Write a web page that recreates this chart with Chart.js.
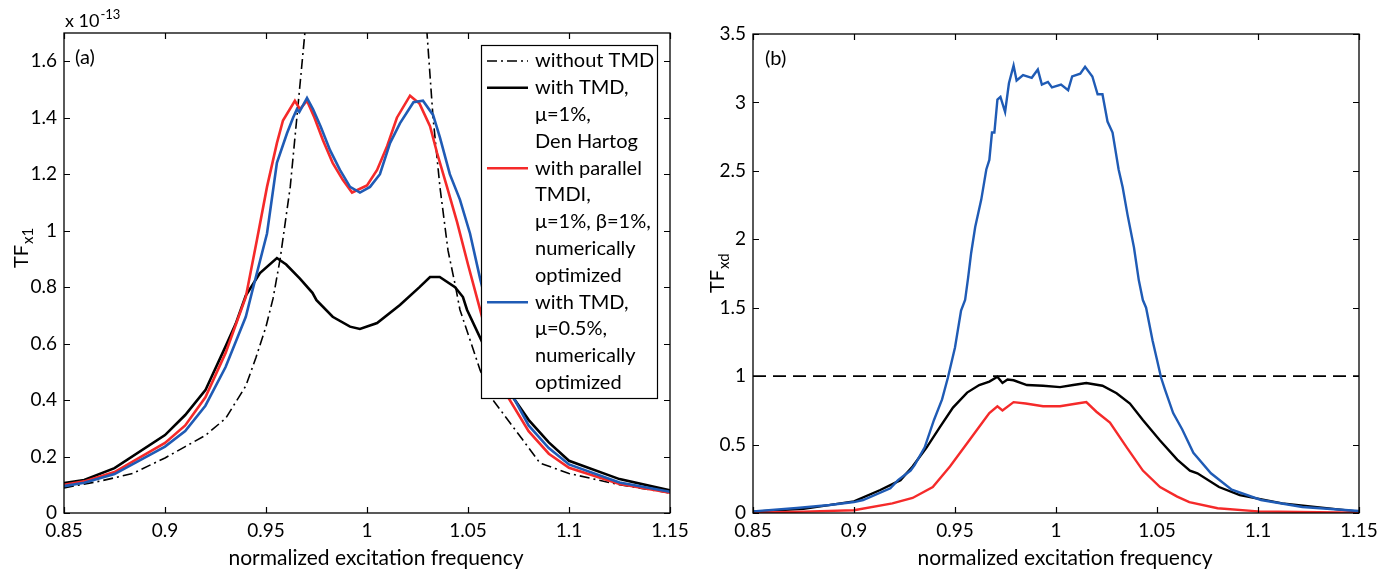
<!DOCTYPE html>
<html>
<head>
<meta charset="utf-8">
<script src="https://cdn.jsdelivr.net/npm/chart.js@4.4.0/dist/chart.umd.min.js"></script>
<style>
  body { margin: 0; background: #fff; }
  #wrap { position: relative; width: 1391px; height: 572px; }
  canvas { position: absolute; top: 0; }
  #chart-a { left: 0; }
  #chart-b { left: 700px; }
</style>
</head>
<body>
<div id="wrap">
  <canvas id="chart-a" width="700" height="572"></canvas>
  <canvas id="chart-b" width="691" height="572"></canvas>
</div>
<script>
const FONT = "Lato, 'DejaVu Sans', sans-serif";
const RED = "#f52a2a";
const BLUE = "#1f5bb5";

const xTicks = [0.85, 0.9, 0.95, 1, 1.05, 1.1, 1.15];
const yTicksA = [0, 0.2, 0.4, 0.6, 0.8, 1, 1.2, 1.4, 1.6];
const yTicksB = [0, 0.5, 1, 1.5, 2, 2.5, 3, 3.5];
const xTitle = "normalized excitation frequency";

const legendLabels = [
  ["without TMD"],
  ["with TMD,", "\u03bc=1%,", "Den Hartog"],
  ["with parallel", "TMDI,", "\u03bc=1%, \u03b2=1%,", "numerically", "optimized"],
  ["with TMD,", "\u03bc=0.5%,", "numerically", "optimized"],
];

// panel (a): TF_x1 (x 1e-13)
const noTmdFreqA = [0.85, 0.868, 0.884, 0.9, 0.91, 0.92, 0.93, 0.94, 0.945, 0.95, 0.9535, 0.957, 0.962, 0.967, 0.9695, 0.973,
  1.027, 1.0297, 1.0327, 1.0361, 1.0401, 1.0436, 1.046, 1.056, 1.0624, 1.077, 1.0856, 1.1, 1.125, 1.15];
const noTmdValA = [0.089, 0.113, 0.14, 0.195, 0.235, 0.275, 0.335, 0.45, 0.55, 0.66, 0.76, 0.9, 1.155, 1.53, 1.72, 2.3,
  2.3, 1.7, 1.4, 1.155, 0.93, 0.81, 0.72, 0.506, 0.4, 0.26, 0.177, 0.14, 0.1, 0.071];

const tmdFreqA = [0.85, 0.86, 0.875, 0.9, 0.91, 0.92, 0.93, 0.935, 0.94, 0.947, 0.9554, 0.96, 0.9668, 0.973, 0.975, 0.983,
  0.9916, 0.9965, 1.005, 1.0163, 1.026, 1.0312, 1.036, 1.0436, 1.0475, 1.0495, 1.06, 1.0708, 1.08, 1.09, 1.1, 1.125, 1.15];
const tmdValA = [0.106, 0.117, 0.159, 0.276, 0.347, 0.435, 0.59, 0.67, 0.77, 0.85, 0.903, 0.88, 0.83, 0.78, 0.754, 0.695,
  0.66, 0.652, 0.673, 0.737, 0.8, 0.836, 0.836, 0.8, 0.765, 0.72, 0.56, 0.425, 0.33, 0.25, 0.185, 0.12, 0.08];

const tmdiFreqA = [0.85, 0.86, 0.875, 0.9, 0.91, 0.92, 0.93, 0.94, 0.9455, 0.9505, 0.9554, 0.9584, 0.9643, 0.9668, 0.9703,
  0.974, 0.9782, 0.983, 0.988, 0.9926, 1.0, 1.005, 1.01, 1.0148, 1.0213, 1.026, 1.0312, 1.0347, 1.0396, 1.0446, 1.05, 1.056,
  1.062, 1.069, 1.08, 1.09, 1.1, 1.125, 1.15];
const tmdiValA = [0.1, 0.112, 0.145, 0.248, 0.31, 0.41, 0.567, 0.765, 0.967, 1.155, 1.31, 1.39, 1.46, 1.43, 1.46,
  1.4, 1.32, 1.24, 1.18, 1.135, 1.16, 1.215, 1.3, 1.4, 1.478, 1.45, 1.37, 1.275, 1.155, 1.03, 0.88, 0.72,
  0.56, 0.42, 0.29, 0.21, 0.16, 0.103, 0.072];

const halfTmdFreqA = [0.85, 0.86, 0.875, 0.9, 0.91, 0.92, 0.93, 0.94, 0.943, 0.9505, 0.9554, 0.9604, 0.9634, 0.9653, 0.9665,
  0.9703, 0.9733, 0.977, 0.9817, 0.9866, 0.9916, 0.9965, 1.0015, 1.0064, 1.0114, 1.0163, 1.023, 1.0277, 1.0327, 1.0361,
  1.041, 1.046, 1.051, 1.056, 1.062, 1.0717, 1.08, 1.09, 1.1, 1.125, 1.15];
const halfTmdValA = [0.095, 0.107, 0.138, 0.235, 0.29, 0.38, 0.517, 0.695, 0.78, 0.99, 1.24, 1.345, 1.4, 1.43, 1.42,
  1.47, 1.43, 1.37, 1.285, 1.215, 1.155, 1.135, 1.155, 1.2, 1.31, 1.38, 1.455, 1.46, 1.41, 1.33,
  1.2, 1.11, 0.99, 0.83, 0.66, 0.42, 0.31, 0.23, 0.172, 0.108, 0.075];

// panel (b): TF_xd
const refFreqB = [0.85, 1.15];
const refValB = [1, 1];

const tmdFreqB = [0.85, 0.875, 0.9, 0.913, 0.923, 0.929, 0.936, 0.9426, 0.949, 0.956, 0.962, 0.967, 0.971, 0.9735, 0.976,
  0.979, 0.9856, 0.9936, 1.002, 1.0085, 1.015, 1.023, 1.03, 1.0366, 1.043, 1.0515, 1.06, 1.0663, 1.07, 1.0807, 1.091,
  1.112, 1.15];
const tmdValB = [0.01, 0.03, 0.085, 0.168, 0.24, 0.34, 0.48, 0.63, 0.77, 0.88, 0.935, 0.96, 0.995, 0.95, 0.975,
  0.97, 0.935, 0.93, 0.92, 0.935, 0.95, 0.93, 0.875, 0.8, 0.68, 0.53, 0.39, 0.31, 0.29, 0.19, 0.13,
  0.07, 0.01];

const tmdiFreqB = [0.85, 0.875, 0.9, 0.919, 0.929, 0.939, 0.9475, 0.956, 0.962, 0.967, 0.971, 0.9735, 0.979, 0.985, 0.9936,
  1.002, 1.0104, 1.015, 1.02, 1.0267, 1.035, 1.043, 1.0515, 1.06, 1.066, 1.08, 1.1, 1.15];
const tmdiValB = [0.003, 0.01, 0.02, 0.07, 0.11, 0.19, 0.34, 0.51, 0.63, 0.73, 0.78, 0.75, 0.81, 0.8, 0.78,
  0.78, 0.8, 0.81, 0.74, 0.66, 0.48, 0.31, 0.19, 0.12, 0.08, 0.035, 0.012, 0.003];

const halfTmdFreqB = [0.85, 0.8717, 0.888, 0.9, 0.9045, 0.918, 0.9218, 0.928, 0.93, 0.935, 0.9396, 0.9436, 0.9465, 0.95,
  0.953, 0.955, 0.9565, 0.958, 0.96, 0.963, 0.9655, 0.967, 0.9683, 0.9695, 0.971, 0.9725, 0.9748, 0.9767, 0.979, 0.9805,
  0.9837, 0.988, 0.991, 0.993, 0.996, 0.998, 1.0025, 1.006, 1.008, 1.012, 1.0144, 1.018, 1.0206, 1.023, 1.0255, 1.028,
  1.031, 1.033, 1.0354, 1.0386, 1.041, 1.043, 1.0446, 1.0478, 1.05, 1.052, 1.054, 1.058, 1.0625, 1.068, 1.0767, 1.087,
  1.1015, 1.122, 1.15];
const halfTmdValB = [0.012, 0.037, 0.058, 0.08, 0.095, 0.18, 0.24, 0.31, 0.35, 0.48, 0.68, 0.83, 0.99, 1.21,
  1.48, 1.556, 1.72, 1.9, 2.09, 2.29, 2.51, 2.58, 2.78, 2.78, 3.02, 3.04, 2.93, 3.14, 3.27, 3.16,
  3.2, 3.18, 3.24, 3.13, 3.15, 3.11, 3.13, 3.09, 3.19, 3.21, 3.26, 3.19, 3.06, 3.06, 2.86, 2.78,
  2.51, 2.38, 2.18, 1.94, 1.7, 1.556, 1.5, 1.26, 1.12, 0.99, 0.9, 0.73, 0.61, 0.44, 0.29, 0.17,
  0.095, 0.044, 0.015];

function toPoints(xs, ys) {
  return xs.map((x, i) => ({ x, y: ys[i] }));
}

function tickLabel(value) {
  return String(Number(value.toFixed(2)));
}

const panelDecor = {
  id: "panelDecor",
  afterDatasetsDraw(chart, args, opts) {
    const { ctx, chartArea: area, scales } = chart;
    ctx.save();

    // legend box
    if (opts.legend) {
      const box = opts.legend;
      ctx.fillStyle = "#fff";
      ctx.fillRect(box.x, box.y, box.w, box.h);
      ctx.strokeStyle = "#000";
      ctx.lineWidth = 1.2;
      ctx.strokeRect(box.x + 0.5, box.y + 0.5, box.w, box.h);
      ctx.font = `${box.fontSize}px ${FONT}`;
      ctx.textBaseline = "middle";
      ctx.textAlign = "left";
      let row = 0;
      legendLabels.forEach((lines, i) => {
        const ds = chart.data.datasets[box.datasets[i]];
        const y = box.firstRow + row * box.rowStep;
        ctx.strokeStyle = ds.borderColor;
        ctx.lineWidth = ds.borderWidth;
        ctx.setLineDash(ds.borderDash || []);
        ctx.beginPath();
        ctx.moveTo(box.x + 6, y);
        ctx.lineTo(box.x + 47, y);
        ctx.stroke();
        ctx.setLineDash([]);
        ctx.fillStyle = "#000";
        lines.forEach((line) => {
          ctx.fillText(line, box.x + 54, box.firstRow + row * box.rowStep);
          row += 1;
        });
      });
    }

    // frame
    ctx.strokeStyle = "#000";
    ctx.lineWidth = 1.3;
    ctx.strokeRect(area.left, area.top, area.right - area.left, area.bottom - area.top);

    // inward ticks on all four sides
    ctx.lineWidth = 1.2;
    ctx.beginPath();
    scales.x.ticks.forEach((t) => {
      const px = Math.round(scales.x.getPixelForValue(t.value)) + 0.5;
      ctx.moveTo(px, area.bottom);
      ctx.lineTo(px, area.bottom - 6);
      ctx.moveTo(px, area.top);
      ctx.lineTo(px, area.top + 6);
    });
    scales.y.ticks.forEach((t) => {
      const py = Math.round(scales.y.getPixelForValue(t.value)) + 0.5;
      ctx.moveTo(area.left, py);
      ctx.lineTo(area.left + 6, py);
      ctx.moveTo(area.right, py);
      ctx.lineTo(area.right - 6, py);
    });
    ctx.stroke();

    ctx.fillStyle = "#000";
    ctx.textBaseline = "alphabetic";

    // panel tag
    ctx.font = `20px ${FONT}`;
    ctx.textAlign = "left";
    ctx.fillText(opts.tag, opts.tagPos[0], opts.tagPos[1]);

    // x title
    ctx.font = `21px ${FONT}`;
    ctx.textAlign = "center";
    ctx.fillText(xTitle, (area.left + area.right) / 2 + 9, 565);

    // y title with subscript
    ctx.save();
    ctx.translate(opts.yTitlePos[0], opts.yTitlePos[1]);
    ctx.rotate(-Math.PI / 2);
    ctx.textAlign = "left";
    ctx.font = `20px ${FONT}`;
    ctx.fillText(opts.yTitle[0], 0, 0);
    const w = ctx.measureText(opts.yTitle[0]).width;
    ctx.font = `15px ${FONT}`;
    ctx.fillText(opts.yTitle[1], w + 1, 5);
    ctx.restore();

    // exponent
    if (opts.exponent) {
      ctx.textAlign = "left";
      ctx.font = `18px ${FONT}`;
      ctx.fillText("x 10", 65, 27);
      const ew = ctx.measureText("x 10").width;
      ctx.font = `13px ${FONT}`;
      ctx.fillText("-13", 65 + ew + 1, 19);
    }
    ctx.restore();
  },
};

function axes(yMax, yTicks, yWidth) {
  const common = {
    type: "linear",
    grid: { display: false, drawTicks: false },
    border: { display: false },
  };
  return {
    x: {
      ...common,
      min: 0.85,
      max: 1.15,
      afterBuildTicks: (scale) => {
        scale.ticks = xTicks.map((value) => ({ value }));
      },
      afterFit: (scale) => {
        scale.height = 59;
      },
      ticks: {
        padding: 6,
        maxRotation: 0,
        autoSkip: false,
        color: "#000",
        font: { family: FONT, size: 19 },
        callback: tickLabel,
      },
    },
    y: {
      ...common,
      min: 0,
      max: yMax,
      afterBuildTicks: (scale) => {
        scale.ticks = yTicks.map((value) => ({ value }));
      },
      afterFit: (scale) => {
        scale.width = yWidth;
      },
      ticks: {
        padding: 7,
        autoSkip: false,
        color: "#000",
        font: { family: FONT, size: 19 },
        callback: tickLabel,
      },
    },
  };
}

function line(label, xs, ys, color, width, order, dash) {
  return {
    label,
    data: toPoints(xs, ys),
    borderColor: color,
    borderWidth: width,
    borderDash: dash || [],
    pointRadius: 0,
    tension: 0,
    fill: false,
    clip: 0,
    order,
  };
}

const baseOptions = {
  responsive: false,
  animation: false,
  events: [],
  parsing: false,
};

new Chart(document.getElementById("chart-a"), {
  type: "line",
  data: {
    datasets: [
      line("without TMD", noTmdFreqA, noTmdValA, "#000", 1.6, 4, [10, 4, 2, 4]),
      line("with TMD, mu=1%, Den Hartog", tmdFreqA, tmdValA, "#000", 2.6, 3),
      line("with parallel TMDI", tmdiFreqA, tmdiValA, RED, 2.6, 2),
      line("with TMD, mu=0.5%", halfTmdFreqA, halfTmdValA, BLUE, 2.6, 1),
    ],
  },
  options: {
    ...baseOptions,
    layout: { padding: { top: 33, right: 30, left: 0, bottom: 0 } },
    plugins: {
      legend: { display: false },
      tooltip: { enabled: false },
      panelDecor: {
        tag: "(a)",
        tagPos: [75, 64],
        yTitle: ["TF", "x1"],
        yTitlePos: [28, 268],
        exponent: true,
        legend: { x: 481, y: 45, w: 176, h: 353, firstRow: 61, rowStep: 26.8, fontSize: 20, datasets: [0, 1, 2, 3] },
      },
    },
    scales: axes(1.7, yTicksA, 64),
  },
  plugins: [panelDecor],
});

new Chart(document.getElementById("chart-b"), {
  type: "line",
  data: {
    datasets: [
      line("reference", refFreqB, refValB, "#000", 1.8, 4, [13, 7]),
      line("with TMD, mu=1%, Den Hartog", tmdFreqB, tmdValB, "#000", 2.4, 3),
      line("with parallel TMDI", tmdiFreqB, tmdiValB, RED, 2.4, 2),
      line("with TMD, mu=0.5%", halfTmdFreqB, halfTmdValB, BLUE, 2.4, 1),
    ],
  },
  options: {
    ...baseOptions,
    layout: { padding: { top: 34, right: 32, left: 0, bottom: 0 } },
    plugins: {
      legend: { display: false },
      tooltip: { enabled: false },
      panelDecor: {
        tag: "(b)",
        tagPos: [65, 65],
        yTitle: ["TF", "xd"],
        yTitlePos: [24, 293],
        exponent: false,
        legend: null,
      },
    },
    scales: axes(3.5, yTicksB, 53),
  },
  plugins: [panelDecor],
});
</script>
</body>
</html>
